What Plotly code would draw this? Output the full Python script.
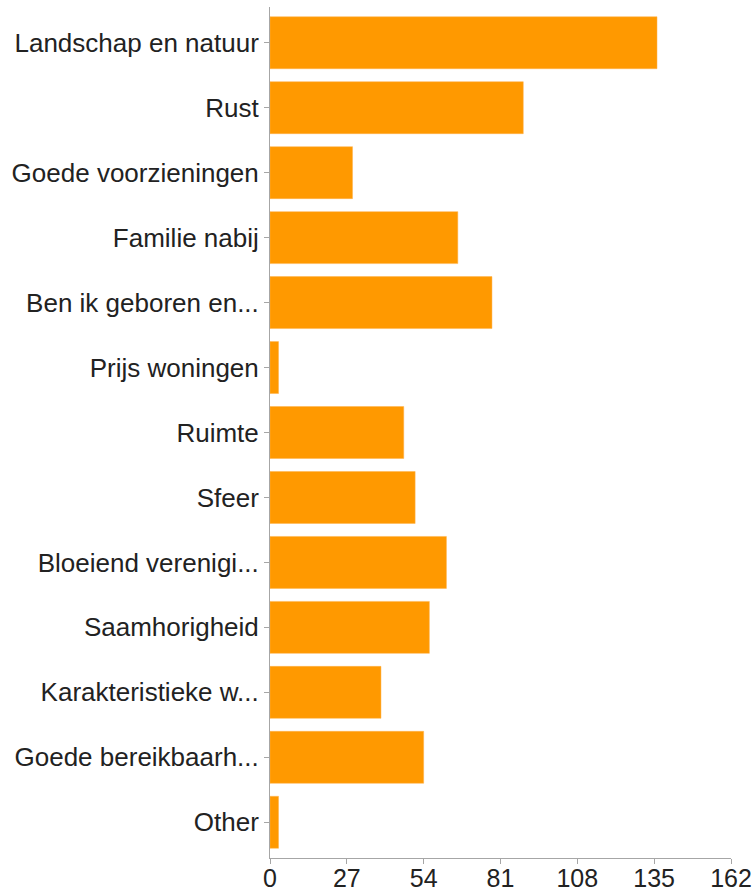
import plotly.graph_objects as go

# Reasons respondents gave for living in the area (number of mentions)
categories = [
    "Landschap en natuur",
    "Rust",
    "Goede voorzieningen",
    "Familie nabij",
    "Ben ik geboren en...",
    "Prijs woningen",
    "Ruimte",
    "Sfeer",
    "Bloeiend verenigi...",
    "Saamhorigheid",
    "Karakteristieke w...",
    "Goede bereikbaarh...",
    "Other",
]
counts = [136, 89, 29, 66, 78, 3, 47, 51, 62, 56, 39, 54, 3]
x_ticks = [0, 27, 54, 81, 108, 135, 162]

fig = go.Figure(
    go.Bar(
        x=counts,
        y=categories,
        orientation="h",
        marker=dict(color="#ff9900", line=dict(color="#ffb24d", width=0.5)),
        hoverinfo="x+y",
    )
)

axis_grey = "#a6a6a6"
family = "Liberation Sans, Arial, Helvetica, sans-serif"
y_font = dict(family=family, size=26, color="#222222")
x_font = dict(family=family, size=25, color="#222222")

fig.update_layout(
    width=756,
    height=892,
    margin=dict(l=270, r=25, t=7, b=34),
    paper_bgcolor="white",
    plot_bgcolor="white",
    bargap=0.2,
    showlegend=False,
    font=y_font,
)
fig.update_xaxes(
    range=[0, 162],
    tickvals=x_ticks,
    ticktext=[str(v) for v in x_ticks],
    showgrid=False,
    zeroline=False,
    showline=True,
    linecolor=axis_grey,
    linewidth=1,
    ticks="outside",
    ticklen=5,
    tickcolor=axis_grey,
    tickfont=x_font,
    ticklabelstandoff=-7,
    automargin=False,
)
fig.update_yaxes(
    type="category",
    categoryorder="array",
    categoryarray=categories,
    range=[len(categories) - 0.45, -0.55],
    showgrid=False,
    zeroline=False,
    showline=True,
    linecolor=axis_grey,
    linewidth=1,
    ticks="outside",
    ticklen=5,
    tickcolor=axis_grey,
    tickfont=y_font,
    automargin=False,
)

fig.write_html("out.html")
